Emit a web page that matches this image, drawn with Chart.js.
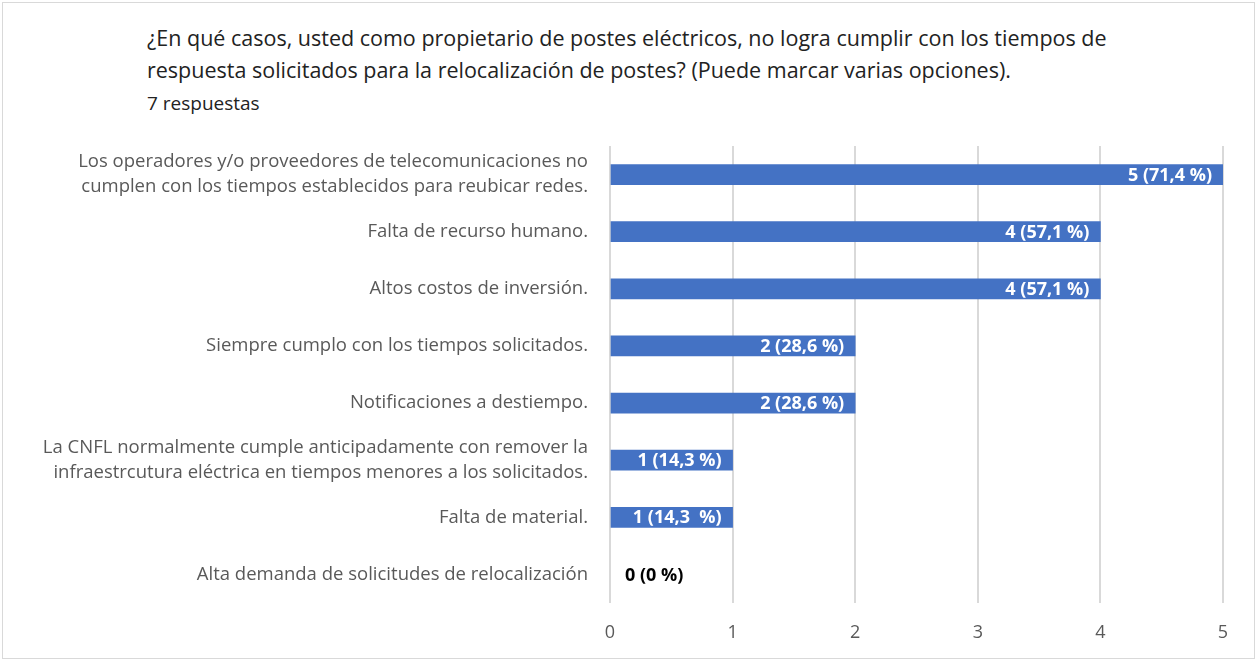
<!DOCTYPE html>
<html>
<head>
<meta charset="utf-8">
<script src="https://cdn.jsdelivr.net/npm/chart.js@4.4.1/dist/chart.umd.min.js"></script>
<style>
    html, body { margin: 0; padding: 0; background: #fff; }
    #wrap { position: relative; width: 1257px; height: 661px; overflow: hidden; }
    #frame { position: absolute; left: 2px; top: 2px; width: 1251px; height: 655px; border: 1px solid #d9d9d9; }
    #chart-container { position: absolute; left: 0; top: 0; }
    .title { position: absolute; left: 147px; font-family: "Open Sans", sans-serif; color: #222; font-size: 21.5px; line-height: 28px; white-space: nowrap; }
    .sub { position: absolute; left: 147px; top: 90px; font-family: "Open Sans", sans-serif; color: #222; font-size: 19px; line-height: 26px; }
</style>
</head>
<body>
<div id="wrap">
    <div id="frame"></div>
    <div class="title" style="top:24px">¿En qué casos, usted como propietario de postes eléctricos, no logra cumplir con los tiempos de</div>
    <div class="title" style="top:56px">respuesta solicitados para la relocalización de postes? (Puede marcar varias opciones).</div>
    <div class="sub">7 respuestas</div>
    <canvas id="chart-container" width="1257" height="661"></canvas>
</div>
<script>
const categories = [
    ["Los operadores y/o proveedores de telecomunicaciones no", "cumplen con los tiempos establecidos para reubicar redes."],
    "Falta de recurso humano.",
    "Altos costos de inversión.",
    "Siempre cumplo con los tiempos solicitados.",
    "Notificaciones a destiempo.",
    ["La CNFL normalmente cumple anticipadamente con remover la", "infraestrcutura eléctrica en tiempos menores a los solicitados."],
    "Falta de material.",
    "Alta demanda de solicitudes de relocalización"
];
const responses = [5, 4, 4, 2, 2, 1, 1, 0];
const valueLabels = ["5 (71,4 %)", "4 (57,1 %)", "4 (57,1 %)", "2 (28,6 %)", "2 (28,6 %)", "1 (14,3 %)", "1 (14,3  %)", "0 (0 %)"];
const xTicks = [0, 1, 2, 3, 4, 5];

const barLabelPlugin = {
    id: "barLabels",
    afterDatasetsDraw: function (chart) {
        const ctx = chart.ctx;
        const meta = chart.getDatasetMeta(0);
        ctx.save();
        ctx.font = "bold 18px 'Open Sans', sans-serif";
        ctx.textBaseline = "middle";
        meta.data.forEach(function (bar, i) {
            if (responses[i] > 0) {
                ctx.fillStyle = "#ffffff";
                ctx.textAlign = "right";
                ctx.fillText(valueLabels[i], bar.x - 11, bar.y + 1);
            } else {
                ctx.fillStyle = "#000000";
                ctx.textAlign = "left";
                ctx.fillText(valueLabels[i], bar.x + 15, bar.y + 1);
            }
        });
        ctx.restore();
    }
};

const ctx = document.getElementById("chart-container").getContext("2d");
new Chart(ctx, {
    type: "bar",
    data: {
        labels: categories,
        datasets: [
            {
                data: responses,
                backgroundColor: function (c) {
                    return responses[c.dataIndex] > 0 ? "#4472c4" : "rgba(0,0,0,0)";
                },
                barThickness: 20,
            },
        ],
    },
    options: {
        indexAxis: "y",
        responsive: false,
        animation: false,
        layout: { padding: { left: 4, right: 34, top: 146, bottom: 13 } },
        plugins: {
            legend: { display: false },
            tooltip: { enabled: false },
        },
        scales: {
            x: {
                min: 0,
                max: 5,
                afterBuildTicks: function (scale) {
                    scale.ticks = xTicks.map(v => ({ value: v }));
                },
                afterFit: function (scale) { scale.height = 45; },
                grid: { color: "#d9d9d9", lineWidth: 2, drawTicks: false },
                border: { display: false },
                ticks: {
                    padding: 19,
                    color: "#595959",
                    font: { family: "'Open Sans', sans-serif", size: 18 },
                },
            },
            y: {
                afterFit: function (scale) { scale.width = 606; },
                grid: { display: false },
                border: { display: false },
                ticks: {
                    padding: 14,
                    color: "#595959",
                    font: { family: "'Open Sans', sans-serif", size: 18.5, lineHeight: 1.35 },
                },
            },
        },
    },
    plugins: [barLabelPlugin],
});
</script>
</body>
</html>
